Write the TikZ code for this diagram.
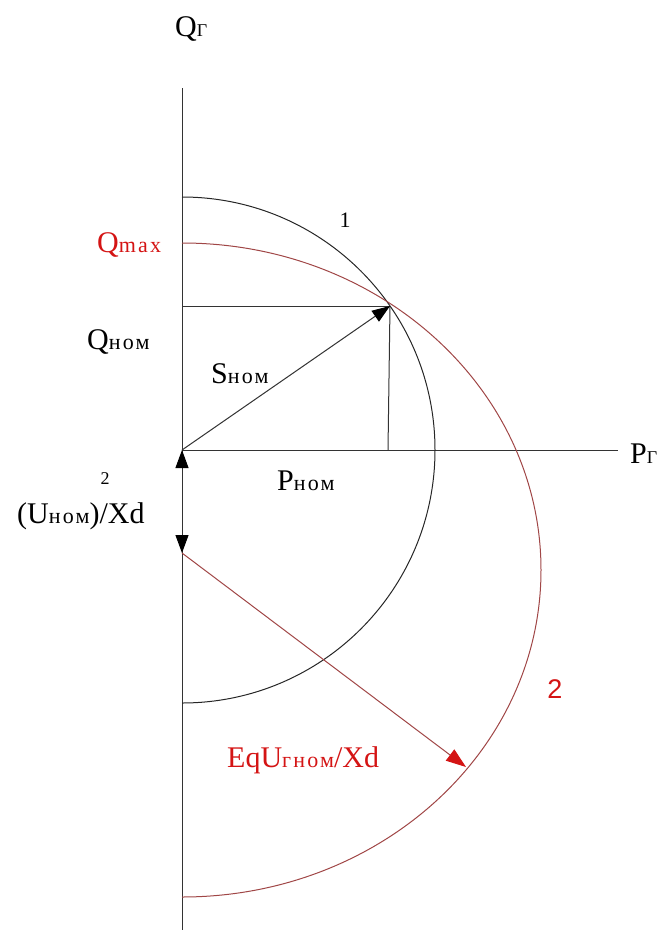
\documentclass[tikz,border=0pt]{standalone}
\usepackage{fontspec}
\setmainfont{Liberation Serif}
\newfontfamily\sansfam{Liberation Sans}
\usetikzlibrary{arrows.meta}
\definecolor{curvecol}{RGB}{160,70,70}
\definecolor{labred}{RGB}{212,20,20}
\newcommand\mainsz{\fontsize{30}{32}\selectfont}
\newcommand\nomsub[1]{{\fontsize{22}{22}\selectfont\addfontfeature{LetterSpace=10}#1}}
\newcommand\gsub{{\fontsize{18}{18}\selectfont Г}}
\tikzset{
  axis/.style={draw=black!80, line width=1pt},
  curve/.style={draw=black!85, line width=1pt},
  curvetwo/.style={draw=curvecol, line width=1pt},
  lab/.style={inner sep=0pt, anchor=base west, font=\mainsz},
  redlab/.style={lab, text=labred},
  blkhead/.style={-{Triangle[length=18pt,width=13pt,fill=black,color=black]}},
}
\begin{document}
\begin{tikzpicture}[x=1pt,y=-1pt]
\useasboundingbox (0,0) rectangle (666,932);
\coordinate (O) at (182,450);
\coordinate (A) at (182,553);
\coordinate (Atop) at (182,88);
\coordinate (Abot) at (182,930);
\coordinate (Pend) at (618,450);
\coordinate (S) at (390,306);
\coordinate (Sq) at (182,306);
\coordinate (Sp) at (388,450);
\coordinate (C1top) at (182,197);
\coordinate (C2top) at (182,243);
\coordinate (E) at (466,767);
% axes
\draw[axis] (Atop) -- (Abot);
\draw[axis] (O) -- (Pend);
% circle 1
\draw[curve] (C1top) arc[start angle=-90,end angle=90,radius=253];
% curve 2
\draw[curvetwo] (C2top) arc[start angle=-90,end angle=90,x radius=359,y radius=327];
% projections
\draw[axis] (Sq) -- (S);
\draw[axis] (Sp) -- (S);
% S nom vector
\draw[axis, blkhead] (O) -- (S);
% U^2/Xd double arrow
\draw[axis, {Triangle[length=18pt,width=13pt,fill=black,color=black]}-{Triangle[length=18pt,width=13pt,fill=black,color=black]}] (O) -- (A);
% red arrow
\draw[draw=curvecol, line width=1pt, -{Triangle[length=20pt,width=14pt,fill=labred,color=labred]}] (A) -- (E);
% labels
\node[lab] (lQ) at (175,36) {Q\gsub};
\node[redlab] (lQmax) at (97,252) {Q\nomsub{max}};
\node[inner sep=0pt, anchor=base, font=\fontsize{22}{22}\selectfont] (l1) at (345,227) {1};
\node[lab] (lQnom) at (87,349) {Q\nomsub{ном}};
\node[lab] (lSnom) at (211,383) {S\nomsub{ном}};
\node[lab] (lPnom) at (277,490) {P\nomsub{ном}};
\node[lab] (lP) at (630,463) {P\gsub};
\node[inner sep=0pt, anchor=base, font=\fontsize{18}{18}\selectfont] (lsq) at (105,484) {2};
\node[lab] (lU) at (17,523) {(U\nomsub{ном})/Xd};
\node[redlab] (lE) at (227,767) {EqU\nomsub{гном}/Xd};
\node[inner sep=0pt, anchor=base, text=labred, font=\sansfam\fontsize{27}{27}\selectfont] (l2) at (555,698) {2};
\end{tikzpicture}
\end{document}
